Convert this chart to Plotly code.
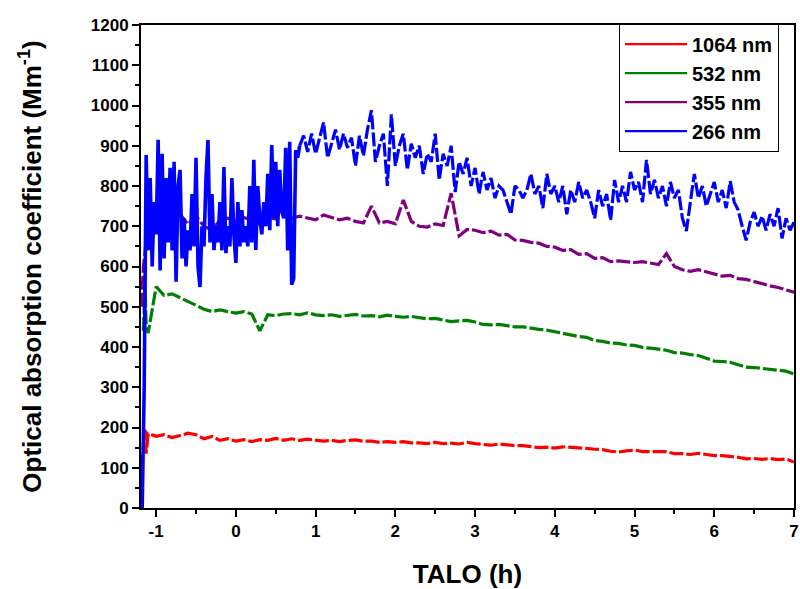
import numpy as np
import plotly.graph_objects as go

# ---------------- data ----------------
# common coarse time grid for 1064/532/355 nm: -1.1 h ... 7.0 h, step 0.1 h
T0_COARSE = -1.1
DT_COARSE = 0.1

RED_HEAD_T = [-1.185, -1.17, -1.14, -1.125]
RED_HEAD = [60, 130, 195, 135]
RED = [185, 178, 182, 175, 180, 186, 182, 172, 178, 168,
       172, 166, 170, 165, 170, 168, 173, 168, 172, 168,
       171, 168, 166, 168, 165, 168, 169, 166, 166, 163,
       165, 163, 165, 162, 162, 160, 163, 160, 161, 159,
       163, 160, 158, 156, 159, 156, 155, 155, 152, 150,
       151, 149, 152, 151, 150, 148, 146, 145, 141, 139,
       142, 144, 140, 140, 139, 140, 135, 135, 133, 136,
       133, 130, 130, 128, 126, 122, 123, 121, 123, 120,
       122, 114]

GREEN_HEAD_T = [-1.16, -1.14, -1.125]
GREEN_HEAD = [440, 550, 450]
GREEN = [435, 550, 528, 532, 522, 512, 502, 494, 488, 492,
         488, 484, 488, 482, 440, 480, 478, 482, 483, 480,
         485, 480, 478, 480, 476, 479, 481, 477, 478, 475,
         479, 476, 474, 476, 472, 470, 471, 466, 463, 465,
         466, 462, 456, 455, 456, 453, 450, 450, 446, 444,
         442, 438, 432, 430, 426, 424, 416, 414, 410, 409,
         405, 404, 399, 397, 394, 392, 386, 385, 381, 379,
         372, 365, 364, 362, 356, 350, 349, 347, 344, 342,
         340, 333]

PURPLE_HEAD_T = [-1.185, -1.16, -1.13]
PURPLE_HEAD = [500, 600, 650]
PURPLE = [745, 720, 740, 700, 730, 705, 725, 700, 690, 715,
          720, 712, 722, 715, 705, 722, 718, 755, 720, 725,
          720, 716, 728, 722, 716, 720, 712, 708, 750, 708,
          712, 706, 765, 712, 700, 698, 706, 702, 782, 676,
          692, 690, 684, 688, 678, 680, 666, 665, 660, 658,
          650, 648, 640, 642, 630, 632, 620, 622, 612, 614,
          612, 610, 612, 608, 605, 632, 600, 592, 588, 592,
          586, 580, 576, 578, 570, 568, 562, 556, 552, 548,
          542, 536]

# 266 nm, early noisy part: -1.15 h ... 0.8 h, step 0.025 h
BLUE_HEAD_T = [-1.175]
BLUE_HEAD = [0]
T0_BLUE_EARLY = -1.15
DT_BLUE_EARLY = 0.025
BLUE_EARLY = [300, 877, 640, 820, 600, 760, 680, 915, 590, 880,
              620, 820, 660, 845, 640, 860, 562, 800, 840, 620,
              720, 600, 690, 640, 780, 650, 870, 600, 549, 700,
              650, 820, 914, 660, 780, 641, 700, 660, 760, 640,
              847, 633, 700, 650, 820, 680, 609, 760, 650, 740,
              660, 700, 650, 800, 660, 865, 641, 800, 720, 680,
              760, 700, 830, 690, 902, 720, 860, 700, 840, 740,
              720, 895, 640, 910, 555, 570, 889, 870, 900]
# 266 nm, later part: 0.85 h ... 7.0 h, step 0.05 h
T0_BLUE_LATE = 0.85
DT_BLUE_LATE = 0.05
BLUE_LATE = [925, 885, 930, 880, 920, 958, 870, 905, 940, 890,
             930, 895, 920, 850, 925, 875, 940, 988, 860, 900,
             930, 800, 978, 850, 900, 930, 840, 905, 870, 900,
             830, 880, 860, 930, 815, 880, 850, 900, 785, 860,
             830, 870, 800, 845, 780, 835, 790, 820, 770, 800,
             790, 760, 730, 800, 790, 770, 790, 830, 780, 800,
             745, 830, 780, 800, 760, 800, 730, 790, 760, 810,
             770, 790, 760, 720, 790, 750, 780, 715, 815, 760,
             800, 760, 835, 790, 810, 760, 865, 780, 815, 770,
             800, 750, 810, 770, 790, 720, 688, 760, 830, 770,
             800, 750, 780, 810, 760, 790, 745, 812, 760, 740,
             700, 665, 710, 735, 700, 725, 690, 730, 700, 745,
             670, 720, 690, 710]

NAMES = ["1064 nm", "532 nm", "355 nm", "266 nm"]
COLORS = ["#ff0000", "#008000", "#800080", "#0000ff"]

X_TICKS = [-1, 0, 1, 2, 3, 4, 5, 6, 7]
Y_TICKS = list(range(0, 1201, 100))

# ---------------- build ----------------
def grid(t0, dt, n):
    return list(np.round(t0 + dt * np.arange(n), 4))

t_coarse = grid(T0_COARSE, DT_COARSE, len(RED))
t_be = grid(T0_BLUE_EARLY, DT_BLUE_EARLY, len(BLUE_EARLY))
t_bl = grid(T0_BLUE_LATE, DT_BLUE_LATE, len(BLUE_LATE))

font_family = "Arial, Liberation Sans, Helvetica, sans-serif"
DASH = "14px,3px"
LW = 3.2

fig = go.Figure()
series = [
    (RED_HEAD_T + t_coarse, RED_HEAD + RED),
    (GREEN_HEAD_T + t_coarse, GREEN_HEAD + GREEN),
    (PURPLE_HEAD_T + t_coarse, PURPLE_HEAD + PURPLE),
]
for i, (xs, ys) in enumerate(series):
    fig.add_trace(go.Scatter(
        x=xs, y=ys, mode="lines", showlegend=False,
        line=dict(color=COLORS[i], width=LW, dash=DASH),
    ))

fig.add_trace(go.Scatter(
    x=BLUE_HEAD_T + t_be, y=BLUE_HEAD + BLUE_EARLY, mode="lines", showlegend=False,
    line=dict(color=COLORS[3], width=3.6),
))
fig.add_trace(go.Scatter(
    x=t_be[-1:] + t_bl, y=BLUE_EARLY[-1:] + BLUE_LATE, mode="lines", showlegend=False,
    line=dict(color=COLORS[3], width=LW, dash=DASH),
))

# legend entries with solid line samples
for name, col in zip(NAMES, COLORS):
    fig.add_trace(go.Scatter(
        x=[None], y=[None], mode="lines", name=name,
        line=dict(color=col, width=2.2),
    ))

axis_common = dict(
    showline=True, linecolor="black", linewidth=2, mirror=True,
    ticks="outside", tickcolor="black", tickwidth=1.5, ticklen=7,
    showgrid=False, zeroline=False, automargin=False,
    ticklabeloverflow="allow",
    tickfont=dict(family=font_family, size=17, color="black", weight="bold"),
)

fig.update_layout(
    width=800, height=589,
    margin=dict(l=141, r=6, t=25, b=81),
    paper_bgcolor="white", plot_bgcolor="white",
    font=dict(family=font_family, color="black"),
    xaxis=dict(
        **axis_common,
        range=[-1.19, 7.0], tickmode="array", tickvals=X_TICKS,
        ticktext=[str(v) for v in X_TICKS],
        minor=dict(dtick=0.5, tick0=0, ticks="outside", ticklen=4, tickcolor="black", tickwidth=1.5),
        title=dict(text="TALO (h)", standoff=25,
                   font=dict(family=font_family, size=26, color="black", weight="bold")),
    ),
    yaxis=dict(
        **axis_common,
        range=[0, 1200], tickmode="array", tickvals=Y_TICKS,
        ticktext=[str(v) for v in Y_TICKS],
        minor=dict(dtick=50, tick0=0, ticks="outside", ticklen=4, tickcolor="black", tickwidth=1.5),
        title=dict(text="Optical absorption coefficient (Mm<sup>-1</sup>)", standoff=42,
                   font=dict(family=font_family, size=26, color="black", weight="bold")),
    ),
    legend=dict(
        x=0.732, y=1.003, xanchor="left", yanchor="top",
        bgcolor="white", bordercolor="black", borderwidth=1,
        font=dict(family=font_family, size=20, color="black", weight="bold"),
        tracegroupgap=0, itemwidth=62,
    ),
    showlegend=True,
)

fig.write_html("out.html")
